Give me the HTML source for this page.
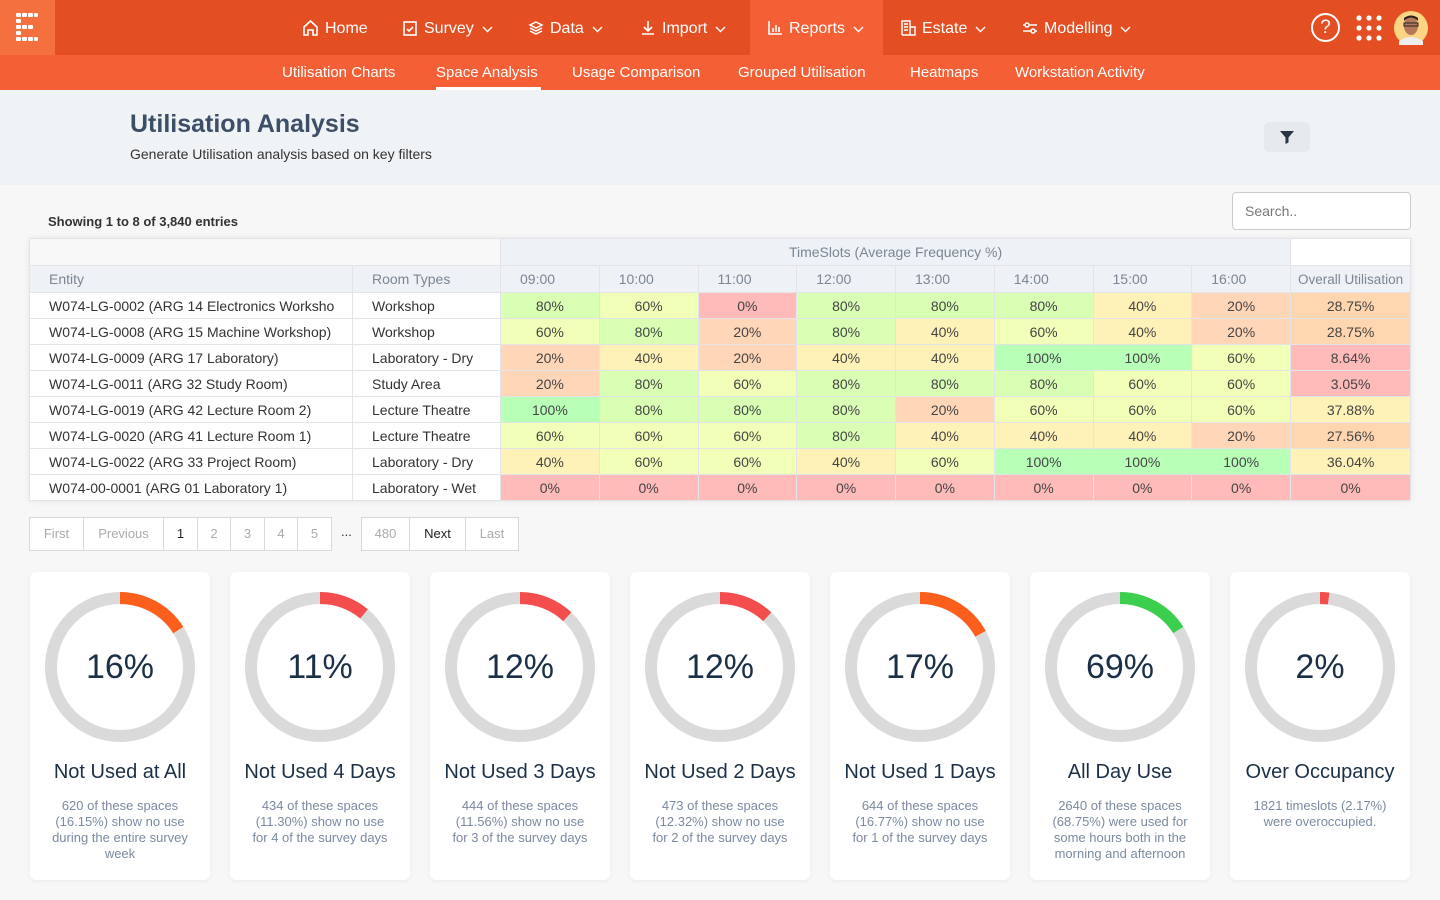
<!DOCTYPE html>
<html><head><meta charset="utf-8">
<style>
*{box-sizing:border-box;margin:0;padding:0}
body{width:1440px;height:900px;overflow:hidden;background:#f7f7f7;font-family:"Liberation Sans","DejaVu Sans",sans-serif;color:#333;position:relative}
.abs{position:absolute}
#top{left:0;top:0;width:1440px;height:55px;background:#e44e23}
#logo{left:0;top:0;width:55px;height:55px;background:#f5703f}
.nav{top:0;height:55px;line-height:57px;color:#fff;font-size:16px;white-space:nowrap}
.nav svg{vertical-align:-3px;margin-right:6px}
.nav svg.car{margin-left:8px;margin-right:0;vertical-align:0}
#sub{left:0;top:55px;width:1440px;height:35px;background:#f45f36}
.sn{top:55px;height:35px;line-height:36px;color:#fff;font-size:15px;white-space:nowrap}
#hdr{left:0;top:90px;width:1440px;height:95px;background:#f0f3f6}
table{border-collapse:collapse;position:absolute;left:29px;top:238px;width:1381px;table-layout:fixed;font-size:14px;background:#fff;box-shadow:0 0 6px rgba(0,0,0,.08)}
td,th{border:1px solid #e2e4e8;height:26px;padding:0;font-weight:normal;white-space:nowrap;overflow:hidden}
th{background:#eef2f6;color:#7b8593;height:27px}
td.t{text-align:left;padding-left:19px;color:#333}
td.v{text-align:center;color:#444}
.pg{position:absolute;top:517px;height:34px;border:1px solid #d9d9d9;background:#fff;font-size:13px;line-height:32px;text-align:center;color:#aaa}
.card{position:absolute;top:572px;width:180px;height:308px;background:#fff;border-radius:6px;box-shadow:0 1px 5px rgba(0,0,0,.06);text-align:center}
.card .pct{position:absolute;left:0;width:180px;top:76px;font-size:34px;color:#1b2f47}
.card .ttl{position:absolute;left:0;width:180px;top:189px;font-size:20px;color:#1b2f47}
.card .desc{position:absolute;left:22px;width:136px;top:226px;font-size:13px;line-height:16px;color:#7b8aa0}
</style></head><body>
<div id="top" class="abs"></div>
<div id="logo" class="abs">
<svg width="55" height="55"><g fill="#fff">
<rect x="16" y="13" width="5" height="4" rx="1"/><rect x="22" y="13" width="5" height="4" rx="1"/><rect x="28" y="13" width="5" height="4" rx="1"/><rect x="34" y="13" width="4" height="4" rx="1"/>
<rect x="16" y="19" width="5" height="4" rx="1"/><rect x="16" y="25" width="5" height="4" rx="1"/><rect x="22" y="25" width="5" height="4" rx="1"/><rect x="28" y="25" width="5" height="4" rx="1"/>
<rect x="16" y="31" width="5" height="4" rx="1"/><rect x="16" y="37" width="5" height="4" rx="1"/><rect x="22" y="37" width="5" height="4" rx="1"/><rect x="28" y="37" width="5" height="4" rx="1"/><rect x="34" y="37" width="4" height="4" rx="1"/></g></svg></div>
<div class="abs" style="left:750px;top:0;width:133px;height:55px;background:#f45f36"></div>
<div class="abs nav" style="left:302px"><svg width="17" height="17" fill="none" stroke="#fff" stroke-width="1.6"><path d="M2 8L8.5 2 15 8V16H11V11H6V16H2Z"/></svg>Home</div>
<div class="abs nav" style="left:402px"><svg width="16" height="17" fill="none" stroke="#fff" stroke-width="1.6"><rect x="2" y="3" width="12" height="13"/><path d="M5 10l2 2 4-4"/></svg>Survey<svg class="car" width="11" height="7" fill="none" stroke="#fff" stroke-width="1.4"><path d="M1 1l4.5 4.5L10 1"/></svg></div>
<div class="abs nav" style="left:528px"><svg width="16" height="17" fill="none" stroke="#fff" stroke-width="1.5"><path d="M8 3L14 6 8 9 2 6Z M2 9l6 3 6-3 M2 12l6 3 6-3"/></svg>Data<svg class="car" width="11" height="7" fill="none" stroke="#fff" stroke-width="1.4"><path d="M1 1l4.5 4.5L10 1"/></svg></div>
<div class="abs nav" style="left:640px"><svg width="16" height="17" fill="none" stroke="#fff" stroke-width="1.6"><path d="M8 2v10M4 8l4 4 4-4M2 15h12"/></svg>Import<svg class="car" width="11" height="7" fill="none" stroke="#fff" stroke-width="1.4"><path d="M1 1l4.5 4.5L10 1"/></svg></div>
<div class="abs nav" style="left:767px"><svg width="16" height="17" fill="none" stroke="#fff" stroke-width="1.6"><path d="M2 2v13h13M6 13V9M9 13V6M12 13V8"/></svg>Reports<svg class="car" width="11" height="7" fill="none" stroke="#fff" stroke-width="1.4"><path d="M1 1l4.5 4.5L10 1"/></svg></div>
<div class="abs nav" style="left:900px"><svg width="16" height="17" fill="none" stroke="#fff" stroke-width="1.5"><path d="M2 16V2h8v14M10 8h5v8H2M4 5h4M4 8h4M4 11h4"/></svg>Estate<svg class="car" width="11" height="7" fill="none" stroke="#fff" stroke-width="1.4"><path d="M1 1l4.5 4.5L10 1"/></svg></div>
<div class="abs nav" style="left:1022px"><svg width="16" height="17" fill="none" stroke="#fff" stroke-width="1.5"><path d="M1 6h14M1 12h14"/><circle cx="5" cy="6" r="2" fill="#e44e23"/><circle cx="11" cy="12" r="2" fill="#e44e23"/></svg>Modelling<svg class="car" width="11" height="7" fill="none" stroke="#fff" stroke-width="1.4"><path d="M1 1l4.5 4.5L10 1"/></svg></div>
<div class="abs" style="left:1311px;top:13px;width:29px;height:29px;border:2px solid #fff;border-radius:50%;color:#fff;text-align:center;font-size:19px;line-height:25px">?</div>
<svg class="abs" style="left:1355px;top:14px" width="28" height="28"><g fill="#fff"><circle cx="4" cy="4" r="2.6"/><circle cx="14" cy="4" r="2.6"/><circle cx="24" cy="4" r="2.6"/><circle cx="4" cy="14" r="2.6"/><circle cx="14" cy="14" r="2.6"/><circle cx="24" cy="14" r="2.6"/><circle cx="4" cy="24" r="2.6"/><circle cx="14" cy="24" r="2.6"/><circle cx="24" cy="24" r="2.6"/></g></svg>
<svg class="abs" style="left:1394px;top:11px" width="34" height="34"><circle cx="17" cy="17" r="17" fill="#fbd584"/><ellipse cx="17" cy="15" rx="7" ry="9" fill="#b5785a"/><path d="M10 10q7-7 14 0v-3q-7-5-14 0z" fill="#2a211d"/><rect x="10" y="12" width="14" height="3" fill="none" stroke="#222"/><path d="M5 30q12-8 24 0v4H5z" fill="#eee"/></svg>
<div id="sub" class="abs"></div>
<div class="abs sn" style="left:282px">Utilisation Charts</div>
<div class="abs sn" style="left:436px">Space Analysis</div>
<div class="abs" style="left:436px;top:87px;width:105px;height:3px;background:#fff"></div>
<div class="abs sn" style="left:572px">Usage Comparison</div>
<div class="abs sn" style="left:738px">Grouped Utilisation</div>
<div class="abs sn" style="left:910px">Heatmaps</div>
<div class="abs sn" style="left:1015px">Workstation Activity</div>
<div id="hdr" class="abs"></div>
<div class="abs" style="left:130px;top:110px;font-size:25px;font-weight:bold;color:#3d4f66">Utilisation Analysis</div>
<div class="abs" style="left:130px;top:146px;font-size:14px;color:#333">Generate Utilisation analysis based on key filters</div>
<div class="abs" style="left:1264px;top:122px;width:46px;height:30px;background:#e6e9ee;border-radius:5px"><svg width="46" height="30"><path d="M16 9h14l-5.5 6.5v5l-3 1.5v-6.5z" fill="#2b3443"/></svg></div>
<div class="abs" style="left:48px;top:214px;font-size:13px;font-weight:bold;color:#333">Showing 1 to 8 of 3,840 entries</div>
<div class="abs" style="left:1232px;top:192px;width:179px;height:38px;border:1px solid #ccc;border-radius:4px;background:#fff;font-size:14px;color:#777;line-height:36px;padding-left:12px">Search..</div>
<table id="tbl"></table>
<div id="pager"></div>
<div id="cards"></div>
<script>
const entities=["W074-LG-0002 (ARG 14 Electronics Worksho","W074-LG-0008 (ARG 15 Machine Workshop)","W074-LG-0009 (ARG 17 Laboratory)","W074-LG-0011 (ARG 32 Study Room)","W074-LG-0019 (ARG 42 Lecture Room 2)","W074-LG-0020 (ARG 41 Lecture Room 1)","W074-LG-0022 (ARG 33 Project Room)","W074-00-0001 (ARG 01 Laboratory 1)"];
const roomTypes=["Workshop","Workshop","Laboratory - Dry","Study Area","Lecture Theatre","Lecture Theatre","Laboratory - Dry","Laboratory - Wet"];
const timeSlots=["09:00","10:00","11:00","12:00","13:00","14:00","15:00","16:00"];
const values=[[80,60,0,80,80,80,40,20],[60,80,20,80,40,60,40,20],[20,40,20,40,40,100,100,60],[20,80,60,80,80,80,60,60],[100,80,80,80,20,60,60,60],[60,60,60,80,40,40,40,20],[40,60,60,40,60,100,100,100],[0,0,0,0,0,0,0,0]];
const overall=[28.75,28.75,8.64,3.05,37.88,27.56,36.04,0];
const overallLabels=["28.75%","28.75%","8.64%","3.05%","37.88%","27.56%","36.04%","0%"];
function cellColor(v){if(v>=100)return"#b8ffb8";if(v>=80)return"#d8ffb4";if(v>=60)return"#f2ffb8";if(v>=40)return"#fff2b8";if(v>=20)return"#ffd6b8";return"#ffbaba";}
function overallColor(v){if(v>=35)return"#fff2b8";if(v>=20)return"#ffd6b0";return"#ffbaba";}
const t=document.getElementById('tbl');
let h='<colgroup><col style="width:323px"><col style="width:148px">'+timeSlots.map(()=>'<col style="width:98.75px">').join('')+'<col style="width:120px"></colgroup>';
h+='<tr><th colspan="2" style="background:#f8f8f8"></th><th colspan="8">TimeSlots (Average Frequency %)</th><th style="background:#fff"></th></tr>';
h+='<tr><th style="text-align:left;padding-left:19px">Entity</th><th style="text-align:left;padding-left:19px">Room Types</th>'+timeSlots.map(s=>'<th style="text-align:left;padding-left:19px">'+s+'</th>').join('')+'<th style="font-size:13.5px">Overall Utilisation</th></tr>';
entities.forEach((e,i)=>{h+='<tr><td class="t">'+e+'</td><td class="t">'+roomTypes[i]+'</td>';
values[i].forEach(v=>{h+='<td class="v" style="background:'+cellColor(v)+'">'+v+'%</td>';});
h+='<td class="v" style="background:'+overallColor(overall[i])+'">'+overallLabels[i]+'</td></tr>';});
t.innerHTML=h;
const pages=[["First",29,55,"#aaa"],["Previous",83,81,"#aaa"],["1",163,35,"#222"],["2",197,34,"#aaa"],["3",230,35,"#aaa"],["4",264,34,"#aaa"],["5",297,35,"#aaa"],["480",361,49,"#aaa"],["Next",409,57,"#222"],["Last",465,54,"#aaa"]];
const pg=document.getElementById('pager');
pages.forEach(p=>{const d=document.createElement('div');d.className='pg';d.style.left=p[1]+'px';d.style.width=p[2]+'px';d.style.color=p[3];d.textContent=p[0];


pg.appendChild(d);});
const el=document.createElement('div');el.className='abs';el.style.cssText='left:341px;top:524px;font-size:13px;color:#333';el.textContent='...';


pg.appendChild(el);
const cardPct=[16,11,12,12,17,69,2];
const arcPct=[16,11,12,12,17,16,2];
const cardTitles=["Not Used at All","Not Used 4 Days","Not Used 3 Days","Not Used 2 Days","Not Used 1 Days","All Day Use","Over Occupancy"];
const cardDesc=["620 of these spaces (16.15%) show no use during the entire survey week","434 of these spaces (11.30%) show no use for 4 of the survey days","444 of these spaces (11.56%) show no use for 3 of the survey days","473 of these spaces (12.32%) show no use for 2 of the survey days","644 of these spaces (16.77%) show no use for 1 of the survey days","2640 of these spaces (68.75%) were used for some hours both in the morning and afternoon","1821 timeslots (2.17%) were overoccupied."];
const cardColors=["#fc5e1c","#f44d4d","#f44d4d","#f44d4d","#fc5e1c","#3ccf4e","#f44d4d"];
const cc=document.getElementById('cards');
cardPct.forEach((p,i)=>{const c=document.createElement('div');c.className='card';c.style.left=(30+i*200)+'px';


const r=69,C=2*Math.PI*r;
c.innerHTML='<svg style="position:absolute;left:15px;top:20px" width="150" height="150"><circle cx="75" cy="75" r="'+r+'" fill="none" stroke="#dadada" stroke-width="12"/><circle cx="75" cy="75" r="'+r+'" fill="none" stroke="'+cardColors[i]+'" stroke-width="12" stroke-dasharray="'+(C*arcPct[i]/100)+' '+C+'" transform="rotate(-90 75 75)"/></svg><div class="pct">'+p+'%</div><div class="ttl">'+cardTitles[i]+'</div><div class="desc">'+cardDesc[i]+'</div>';
cc.appendChild(c);});
</script>
</body></html>
